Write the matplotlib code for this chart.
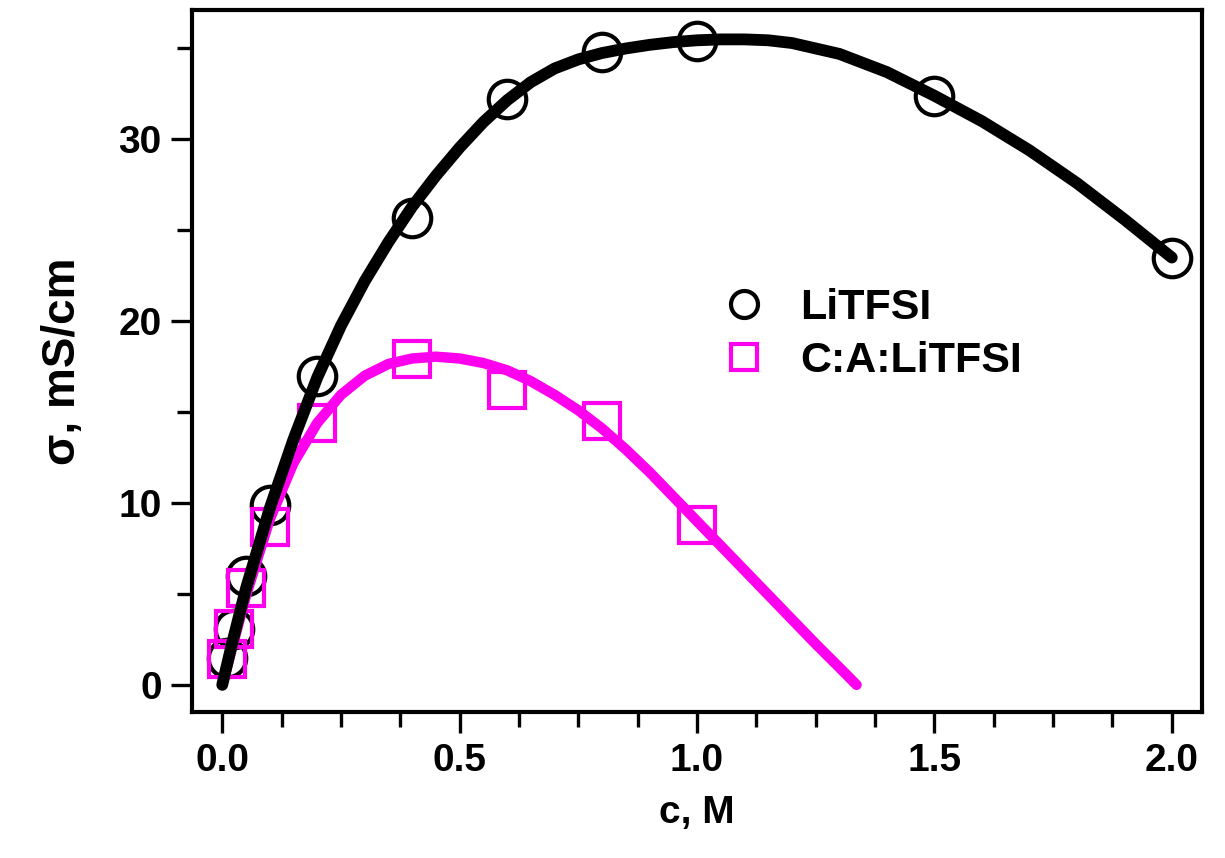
""" Ionic conductivity vs salt concentration: LiTFSI and C:A:LiTFSI """

import matplotlib.pyplot as plt
from matplotlib.ticker import MultipleLocator

# measured points
c_litfsi = [0.01, 0.025, 0.05, 0.1, 0.2, 0.4, 0.6, 0.8, 1.0, 1.5, 2.0]
s_litfsi = [1.5, 3.1, 6.0, 9.9, 17.0, 25.7, 32.2, 34.8, 35.4, 32.4, 23.5]

c_cal = [0.01, 0.025, 0.05, 0.1, 0.2, 0.4, 0.6, 0.8, 1.0]
s_cal = [1.4, 3.1, 5.3, 8.7, 14.4, 17.9, 16.2, 14.5, 8.8]

# fitted curves
fit_c_litfsi = [0.0, 0.02, 0.05, 0.1, 0.15, 0.2, 0.25, 0.3, 0.35, 0.4, 0.45,
                0.5, 0.55, 0.6, 0.65, 0.7, 0.75, 0.8, 0.85, 0.9, 0.95, 1.0,
                1.05, 1.1, 1.15, 1.2, 1.3, 1.4, 1.5, 1.6, 1.7, 1.8, 1.9, 2.0]
fit_s_litfsi = [0.0, 2.2, 5.3, 9.7, 13.5, 16.9, 19.75, 22.2, 24.35, 26.3,
                28.0, 29.55, 30.95, 32.15, 33.15, 33.9, 34.4, 34.75, 35.0,
                35.2, 35.35, 35.45, 35.5, 35.5, 35.45, 35.3, 34.7, 33.7,
                32.4, 31.0, 29.4, 27.6, 25.6, 23.5]

fit_c_cal = [0.0, 0.05, 0.1, 0.15, 0.2, 0.25, 0.3, 0.35, 0.4, 0.45, 0.5,
             0.55, 0.6, 0.65, 0.7, 0.75, 0.8, 0.85, 0.9, 0.95, 1.0, 1.05,
             1.1, 1.15, 1.2, 1.25, 1.3, 1.336]
fit_s_cal = [0.0, 4.9, 9.1, 12.2, 14.4, 15.95, 17.0, 17.65, 17.95, 18.05,
             17.95, 17.7, 17.3, 16.7, 15.95, 15.1, 14.1, 12.95, 11.7, 10.35,
             9.0, 7.65, 6.3, 4.95, 3.6, 2.25, 0.95, 0.0]

pink = '#ff00ee'

plt.rcParams['font.family'] = ['Liberation Sans', 'DejaVu Sans']
plt.rcParams['font.weight'] = 'bold'

fig = plt.figure(figsize=(12.25, 8.58), dpi=100)
ax = fig.add_axes([0.157, 0.170, 0.824, 0.818])

ax.plot(c_litfsi, s_litfsi, 'o', ms=27, mfc='none', mec='black', mew=3,
        label='LiTFSI', zorder=2)
ax.plot(c_cal, s_cal, 's', ms=26, mfc='none', mec=pink, mew=3,
        label='C:A:LiTFSI', zorder=3)
ax.plot(fit_c_cal, fit_s_cal, '-', color=pink, lw=7.5,
        solid_capstyle='round', solid_joinstyle='round', zorder=4)
ax.plot(fit_c_litfsi, fit_s_litfsi, '-', color='black', lw=8.5,
        solid_capstyle='round', solid_joinstyle='round', zorder=5)

ax.set_xlim(-0.063, 2.063)
ax.set_ylim(-1.5, 37.1)
ax.xaxis.set_major_locator(MultipleLocator(0.5))
ax.xaxis.set_minor_locator(MultipleLocator(0.125))
ax.yaxis.set_major_locator(MultipleLocator(10))
ax.yaxis.set_minor_locator(MultipleLocator(5))
ax.xaxis.set_major_formatter(plt.FuncFormatter(lambda v, p: '%.1f' % v))

for s in ax.spines.values():
    s.set_linewidth(3)
ax.tick_params(which='major', direction='out', length=15, width=2.4,
               labelsize=28, pad=7, top=False, right=False)
ax.tick_params(which='minor', direction='out', length=11, width=2.4,
               top=False, right=False)

ax.set_xlabel('c, M', fontsize=28, fontweight='bold', labelpad=12)
ax.set_ylabel('σ, mS/cm', fontsize=33, fontweight='bold', labelpad=24)

ax.legend(loc='upper left', bbox_to_anchor=(0.487, 0.66), frameon=False,
          markerscale=0.72, handlelength=1.0, handletextpad=0.8,
          labelspacing=0.3, prop={'weight': 'bold', 'size': 31})

fig.savefig('out.png', dpi=100)
